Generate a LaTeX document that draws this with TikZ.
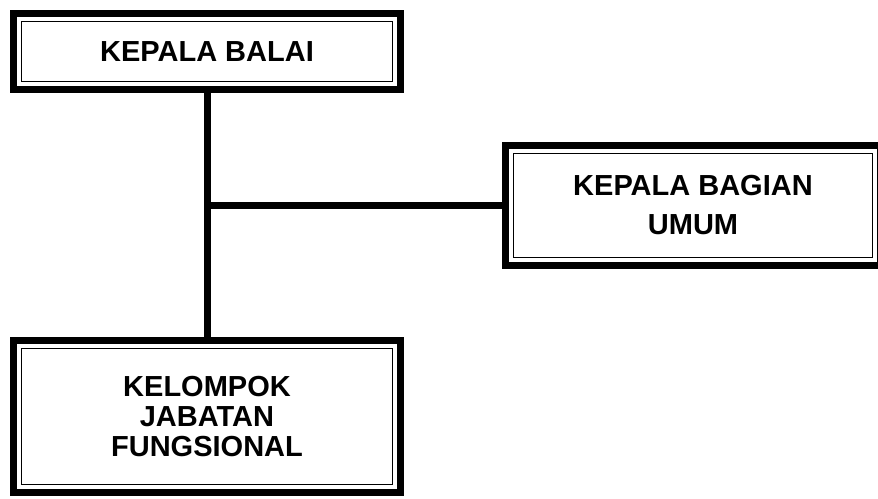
\documentclass[tikz,border=0pt]{standalone}
\usepackage{fontspec}
\setmainfont{Liberation Sans}
\begin{document}
\begin{tikzpicture}[x=1pt,y=1pt,
  orgbox/.style={draw=black, line width=7pt, fill=white, inner sep=0pt, outer sep=0pt,
    align=center, font=\bfseries\fontsize{29}{30}\selectfont},
  innerframe/.style={draw=black, line width=1.6pt},
  link/.style={line width=7pt, black}]
\useasboundingbox (0,0) rectangle (878,498);
\node[orgbox, minimum width=387pt, minimum height=76pt] (b1) at (207,446.5) {KEPALA BALAI};
\node[orgbox, minimum width=375pt, minimum height=120pt, font=\bfseries\fontsize{29}{39}\selectfont] (b2) at (693,292.5) {KEPALA BAGIAN\\UMUM};
\node[orgbox, minimum width=387pt, minimum height=152pt] (b3) at (207,81.5) {KELOMPOK\\JABATAN\\FUNGSIONAL};
\foreach \b in {b1,b2,b3}
  \draw[innerframe] ([shift={(8pt,-8pt)}]\b.north west) rectangle ([shift={(-8pt,8pt)}]\b.south east);
\coordinate (j) at (b1.south |- b2.west);
\draw[link] (b1.south) -- (b3.north);
\draw[link] (j) -- (b2.west);
\end{tikzpicture}
\end{document}
